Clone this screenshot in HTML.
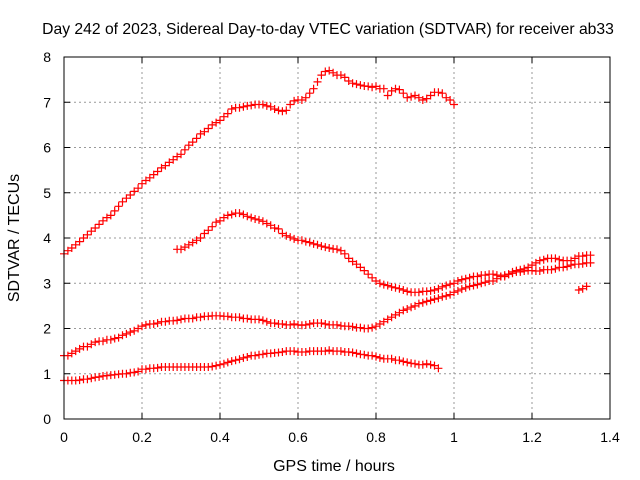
<!DOCTYPE html>
<html><head><meta charset="utf-8"><style>
body{margin:0;background:#fff;}
svg{display:block;font-family:"Liberation Sans",sans-serif;}
</style></head><body>
<svg id="chart" width="640" height="480">
<text x="328" y="34" font-size="15.7" text-anchor="middle">Day 242 of 2023, Sidereal Day-to-day VTEC variation (SDTVAR) for receiver ab33</text>
<text x="334" y="471" font-size="16" text-anchor="middle">GPS time / hours</text>
<text x="19" y="238" font-size="16" text-anchor="middle" transform="rotate(-90 19 238)">SDTVAR / TECUs</text>
<g id="grid"></g><g id="ticks"></g><g id="marks"></g>
<rect x="64" y="57" width="546" height="362" fill="none" stroke="#000" stroke-width="1"/>
</svg>
<script>
const xTicks=[0,0.2,0.4,0.6,0.8,1,1.2,1.4];
const yTicks=[0,1,2,3,4,5,6,7,8];
const startA=0, seriesA=[3.65,3.72,3.78,3.85,3.92,4.0,4.07,4.15,4.22,4.3,4.38,4.45,4.5,4.6,4.7,4.8,4.88,4.95,5.03,5.1,5.2,5.27,5.33,5.4,5.47,5.55,5.6,5.67,5.73,5.8,5.85,5.95,6.05,6.12,6.2,6.3,6.35,6.42,6.5,6.55,6.6,6.68,6.75,6.85,6.88,6.88,6.9,6.92,6.93,6.95,6.95,6.95,6.92,6.9,6.85,6.82,6.8,6.82,6.95,7.03,7.05,7.05,7.1,7.2,7.3,7.45,7.6,7.68,7.7,7.65,7.6,7.6,7.55,7.47,7.42,7.4,7.38,7.36,7.35,7.33,7.35,7.3,7.3,7.15,7.25,7.3,7.28,7.2,7.1,7.12,7.15,7.1,7.05,7.08,7.15,7.22,7.22,7.2,7.1,7.05,6.95];
const startB=0.29, seriesB=[3.75,3.75,3.8,3.85,3.9,3.95,4.0,4.1,4.17,4.25,4.35,4.38,4.45,4.5,4.52,4.55,4.55,4.52,4.48,4.45,4.42,4.4,4.37,4.32,4.28,4.22,4.2,4.1,4.05,4.02,3.98,3.95,3.95,3.92,3.9,3.87,3.85,3.82,3.8,3.78,3.76,3.75,3.72,3.65,3.55,3.48,3.42,3.35,3.28,3.2,3.12,3.05,3.0,2.97,2.95,2.92,2.9,2.88,2.85,2.82,2.8,2.8,2.8,2.82,2.82,2.83,2.85,2.88,2.92,2.95,2.98,3.0,3.05,3.08,3.1,3.12,3.15,3.15,3.18,3.18,3.2,3.2,3.18,3.15,3.15,3.2,3.25,3.28,3.3,3.32,3.35,3.4,3.45,3.5,3.52,3.55,3.55,3.55,3.52,3.5,3.5,3.5,3.55,3.6,3.6,3.62,3.62];
const startC=0, seriesC=[1.4,1.4,1.45,1.5,1.55,1.6,1.6,1.65,1.7,1.72,1.72,1.75,1.75,1.78,1.8,1.85,1.88,1.92,1.95,2.0,2.05,2.08,2.1,2.1,2.12,2.15,2.15,2.17,2.17,2.18,2.2,2.22,2.22,2.22,2.25,2.25,2.27,2.27,2.28,2.28,2.28,2.27,2.27,2.25,2.25,2.25,2.22,2.22,2.2,2.2,2.2,2.18,2.15,2.12,2.12,2.1,2.1,2.08,2.08,2.1,2.08,2.07,2.08,2.1,2.12,2.12,2.12,2.1,2.08,2.08,2.08,2.06,2.05,2.05,2.04,2.02,2.02,2.0,2.0,2.02,2.05,2.1,2.15,2.2,2.25,2.3,2.35,2.4,2.43,2.47,2.5,2.55,2.57,2.6,2.62,2.65,2.67,2.7,2.72,2.75,2.8,2.83,2.87,2.9,2.93,2.95,2.97,3.0,3.02,3.05,3.05,3.1,3.15,3.18,3.2,3.22,3.25,3.25,3.27,3.28,3.28,3.27,3.27,3.3,3.3,3.3,3.32,3.35,3.35,3.37,3.4,3.42,3.42,3.43,3.45,3.45];
const startD=0, seriesD=[0.85,0.85,0.85,0.85,0.86,0.88,0.88,0.9,0.92,0.93,0.95,0.96,0.97,0.98,0.99,1.0,1.0,1.02,1.03,1.05,1.1,1.1,1.12,1.12,1.13,1.15,1.15,1.15,1.15,1.15,1.15,1.15,1.15,1.15,1.15,1.15,1.15,1.15,1.16,1.18,1.2,1.22,1.25,1.28,1.3,1.32,1.35,1.37,1.4,1.4,1.42,1.43,1.45,1.45,1.46,1.47,1.48,1.5,1.5,1.5,1.48,1.48,1.48,1.5,1.5,1.5,1.5,1.5,1.52,1.5,1.5,1.5,1.48,1.48,1.47,1.45,1.43,1.42,1.4,1.4,1.38,1.35,1.33,1.33,1.33,1.3,1.3,1.27,1.25,1.23,1.22,1.2,1.2,1.22,1.2,1.18,1.12];
const startE=1.32, seriesE=[2.85,2.88,2.93];
const step=0.01;
const NS="http://www.w3.org/2000/svg";
const X0=64,X1=610,Y0=419,Y1=57;
function xs(v){return X0+(X1-X0)*v/1.4;}
function ys(v){return Y0-(Y0-Y1)*v/8;}
const grid=document.getElementById('grid'),ticks=document.getElementById('ticks'),marks=document.getElementById('marks');
function mk(tag,attrs,parent){const e=document.createElementNS(NS,tag);for(const k in attrs)e.setAttribute(k,attrs[k]);parent.appendChild(e);return e;}
xTicks.forEach(t=>{const x=xs(t);
 if(t>0&&t<1.4){const g=mk('line',{x1:x,x2:x,y1:Y0,y2:Y1,stroke:'#999','stroke-dasharray':'2,3'},grid);}
 const tk=mk('path',{d:`M${x},${Y0}v-6M${x},${Y1}v6`,stroke:'#000'},ticks);
 const l=mk('text',{x:x,y:442,'font-size':14,'text-anchor':'middle'},ticks);l.textContent=String(t);});
yTicks.forEach(t=>{const y=ys(t);
 if(t>0&&t<8){const g=mk('line',{x1:X0,x2:X1,y1:y,y2:y,stroke:'#999','stroke-dasharray':'2,3'},grid);}
 const tk=mk('path',{d:`M${X0},${y}h6M${X1},${y}h-6`,stroke:'#000'},ticks);
 const l=mk('text',{x:51,y:y+5,'font-size':14,'text-anchor':'end'},ticks);l.textContent=String(t);});
function drawSeries(start,vals,name){
 const g=mk('g',{},marks);
 let d='';vals.forEach((v,i)=>{const x=xs(start+i*step),y=ys(v);d+=`M${(x-4).toFixed(1)},${y.toFixed(1)}h8M${x.toFixed(1)},${(y-4).toFixed(1)}v8`;});
 const p=mk('path',{d:d,stroke:'#f00','stroke-width':1.2,fill:'none'},g);}
drawSeries(startA,seriesA,'series-top');
drawSeries(startB,seriesB,'series-hump');
drawSeries(startC,seriesC,'series-middle');
drawSeries(startD,seriesD,'series-bottom');
drawSeries(startE,seriesE,'series-tail');
</script>
</body></html>
